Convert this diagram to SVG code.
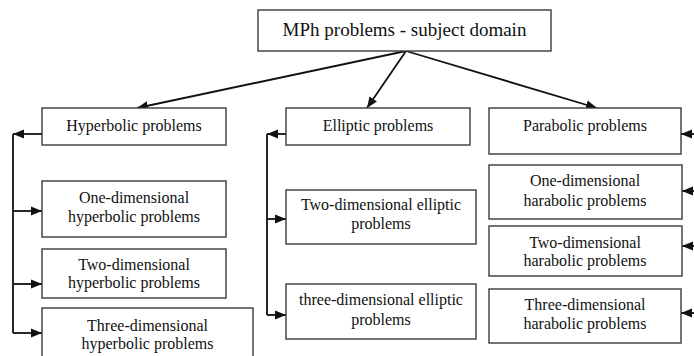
<svg xmlns="http://www.w3.org/2000/svg" width="694" height="356" viewBox="0 0 694 356">
<style>
.box{fill:#fff;stroke:#3a3a3a;stroke-width:1.4}
.t{font-family:"Liberation Serif","Times New Roman",serif;font-size:16px;fill:#111;text-anchor:middle}
.tt{font-family:"Liberation Serif","Times New Roman",serif;font-size:19px;fill:#111;text-anchor:middle}
.c{fill:none;stroke:#111;stroke-width:1.8}
</style>
<defs>
<marker id="ah" markerUnits="userSpaceOnUse" markerWidth="12" markerHeight="10" viewBox="0 0 12 10" refX="11" refY="5" orient="auto">
<path d="M0,0.5 L11,5 L0,9.5 Z" fill="#111"/>
</marker>
</defs>
<rect width="694" height="356" fill="#fff"/>
<g id="connectors">
<path class="c" d="M406,51 L137,108" marker-end="url(#ah)"/>
<path class="c" d="M406,51 L367,108" marker-end="url(#ah)"/>
<path class="c" d="M406,51 L597,108" marker-end="url(#ah)"/>
<path class="c" d="M42,134 L13,134" marker-end="url(#ah)"/>
<path class="c" d="M13,134 L13,333"/>
<path class="c" d="M13,211 L42,211" marker-end="url(#ah)"/>
<path class="c" d="M13,284 L42,284" marker-end="url(#ah)"/>
<path class="c" d="M13,333 L42,333" marker-end="url(#ah)"/>
<path class="c" d="M286,134 L267,134" marker-end="url(#ah)"/>
<path class="c" d="M267,134 L267,315"/>
<path class="c" d="M267,219 L286,219" marker-end="url(#ah)"/>
<path class="c" d="M267,315 L286,315" marker-end="url(#ah)"/>
<path class="c" d="M700,134 L681,134" marker-end="url(#ah)"/>
<path class="c" d="M700,191 L682,191" marker-end="url(#ah)"/>
<path class="c" d="M700,246 L682,246" marker-end="url(#ah)"/>
<path class="c" d="M700,313 L681,313" marker-end="url(#ah)"/>
</g>
<g id="root">
<rect class="box" x="258" y="10" width="293" height="41"/>
<text class="tt" x="404.5" y="36">MPh problems - subject domain</text>
</g>
<g id="hyperbolic">
<rect class="box" x="42" y="108" width="184" height="37"/>
<text class="t" x="134" y="131">Hyperbolic problems</text>
</g>
<g id="elliptic">
<rect class="box" x="286" y="108" width="184" height="37"/>
<text class="t" x="378" y="131">Elliptic problems</text>
</g>
<g id="parabolic">
<rect class="box" x="489" y="108" width="192" height="46"/>
<text class="t" x="585" y="131">Parabolic problems</text>
</g>
<g id="hyp1">
<rect class="box" x="42" y="181" width="184" height="56"/>
<text class="t" x="134" y="203">One-dimensional</text>
<text class="t" x="134" y="222">hyperbolic problems</text>
</g>
<g id="hyp2">
<rect class="box" x="42" y="249" width="184" height="49"/>
<text class="t" x="134" y="270">Two-dimensional</text>
<text class="t" x="134" y="288">hyperbolic problems</text>
</g>
<g id="hyp3">
<rect class="box" x="42" y="308" width="211" height="60"/>
<text class="t" x="147.5" y="331">Three-dimensional</text>
<text class="t" x="147.5" y="349">hyperbolic problems</text>
</g>
<g id="ell2">
<rect class="box" x="286" y="190" width="190" height="54"/>
<text class="t" x="381" y="210">Two-dimensional elliptic</text>
<text class="t" x="381" y="229">problems</text>
</g>
<g id="ell3">
<rect class="box" x="286" y="284" width="190" height="55"/>
<text class="t" x="381" y="305">three-dimensional elliptic</text>
<text class="t" x="381" y="325">problems</text>
</g>
<g id="par1">
<rect class="box" x="489" y="165" width="193" height="54"/>
<text class="t" x="585" y="186">One-dimensional</text>
<text class="t" x="585" y="206">harabolic problems</text>
</g>
<g id="par2">
<rect class="box" x="489" y="226" width="193" height="50"/>
<text class="t" x="585" y="248">Two-dimensional</text>
<text class="t" x="585" y="266">harabolic problems</text>
</g>
<g id="par3">
<rect class="box" x="489" y="289" width="192" height="54"/>
<text class="t" x="585" y="310">Three-dimensional</text>
<text class="t" x="585" y="329">harabolic problems</text>
</g>
</svg>
